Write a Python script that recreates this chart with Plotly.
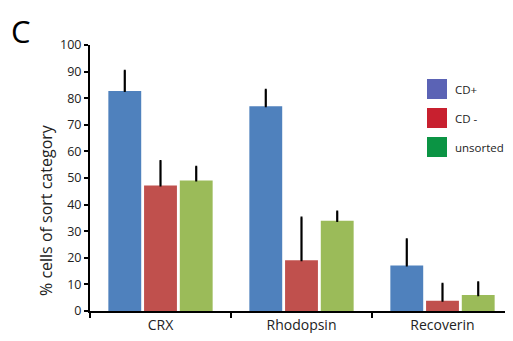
import plotly.graph_objects as go

categories = ["CRX", "Rhodopsin", "Recoverin"]
series_names = ["CD+", "CD -", "unsorted"]
cd_plus = [82.7, 77.0, 17.1]
cd_minus = [47.2, 19.1, 3.9]
unsorted = [49.1, 33.9, 6.0]
cd_plus_err = [7.6, 6.1, 9.8]
cd_minus_err = [9.2, 16.0, 6.3]
unsorted_err = [5.1, 3.5, 4.8]
y_ticks = [0, 10, 20, 30, 40, 50, 60, 70, 80, 90, 100]

bar_colors = ["#4F81BD", "#C0504D", "#9BBB59"]
legend_colors = ["#5B63B5", "#C8202F", "#0B9444"]

fig = go.Figure()
for vals, errs, col, name in zip([cd_plus, cd_minus, unsorted],
                                 [cd_plus_err, cd_minus_err, unsorted_err],
                                 bar_colors, series_names):
    fig.add_trace(go.Bar(
        x=categories, y=vals, name=name, marker_color=col,
        marker_line_width=0, showlegend=False,
        error_y=dict(type="data", symmetric=False, array=errs,
                     arrayminus=[0] * len(errs), color="black",
                     thickness=2.2, width=1),
    ))

# page has an 8px body margin on every side; keep the figure inside the window
OFF = 8
W, H = 513 - 2 * OFF, 341 - 2 * OFF
L, R, T = 90 - OFF, 0, 45 - OFF
B = H - (311 - OFF)
pw, ph = W - L - R, H - T - B
cat_px = 423 / 3.0  # pixel width of one category in the reference
x_hi = -0.5 + pw / cat_px

def px_x(px):
    return (px - OFF - L) / pw

def px_y(py):
    return (H - B - (py - OFF)) / ph

shapes = []
annotations = []
legend_tops = [79, 108, 137]
for top, col, name in zip(legend_tops, legend_colors, series_names):
    shapes.append(dict(type="rect", xref="paper", yref="paper",
                       x0=px_x(427), x1=px_x(447), y0=px_y(top + 20), y1=px_y(top),
                       fillcolor=col, line_width=0))
    annotations.append(dict(xref="paper", yref="paper", x=px_x(453), y=px_y(top + 10),
                            text=name, showarrow=False, xanchor="left", yanchor="middle",
                            font=dict(size=11.5, color="#222222", family="Open Sans")))

annotations.append(dict(xref="paper", yref="paper", x=px_x(9), y=px_y(8),
                        text="C", showarrow=False, xanchor="left", yanchor="top",
                        font=dict(size=31, color="black", family="Open Sans")))

annotations.append(dict(xref="paper", yref="paper", x=px_x(46), y=px_y(210),
                        text="% cells of sort category", textangle=-90, showarrow=False,
                        xanchor="center", yanchor="middle",
                        font=dict(size=16, color="#222222", family="Open Sans")))

fig.update_layout(
    width=W, height=H,
    margin=dict(l=L, r=R, t=T, b=B, pad=0),
    paper_bgcolor="white", plot_bgcolor="white",
    barmode="group", bargap=0.24, bargroupgap=0.08,
    font=dict(family="Open Sans", color="#222222"),
    shapes=shapes, annotations=annotations,
    xaxis=dict(range=[-0.5, x_hi], showline=True, linecolor="black", linewidth=2,
               ticks="outside", tickson="boundaries", ticklen=5, tickwidth=2,
               tickcolor="black", tickfont=dict(size=14, color="#222222"),
               showgrid=False, zeroline=False),
    yaxis=dict(range=[0, 100], tickvals=y_ticks, showline=True, linecolor="black",
               linewidth=2, ticks="outside", ticklen=4, tickwidth=2, tickcolor="black",
               tickfont=dict(size=12.5, color="#222222"), showgrid=False, zeroline=False),
)

fig.write_html("out.html")
